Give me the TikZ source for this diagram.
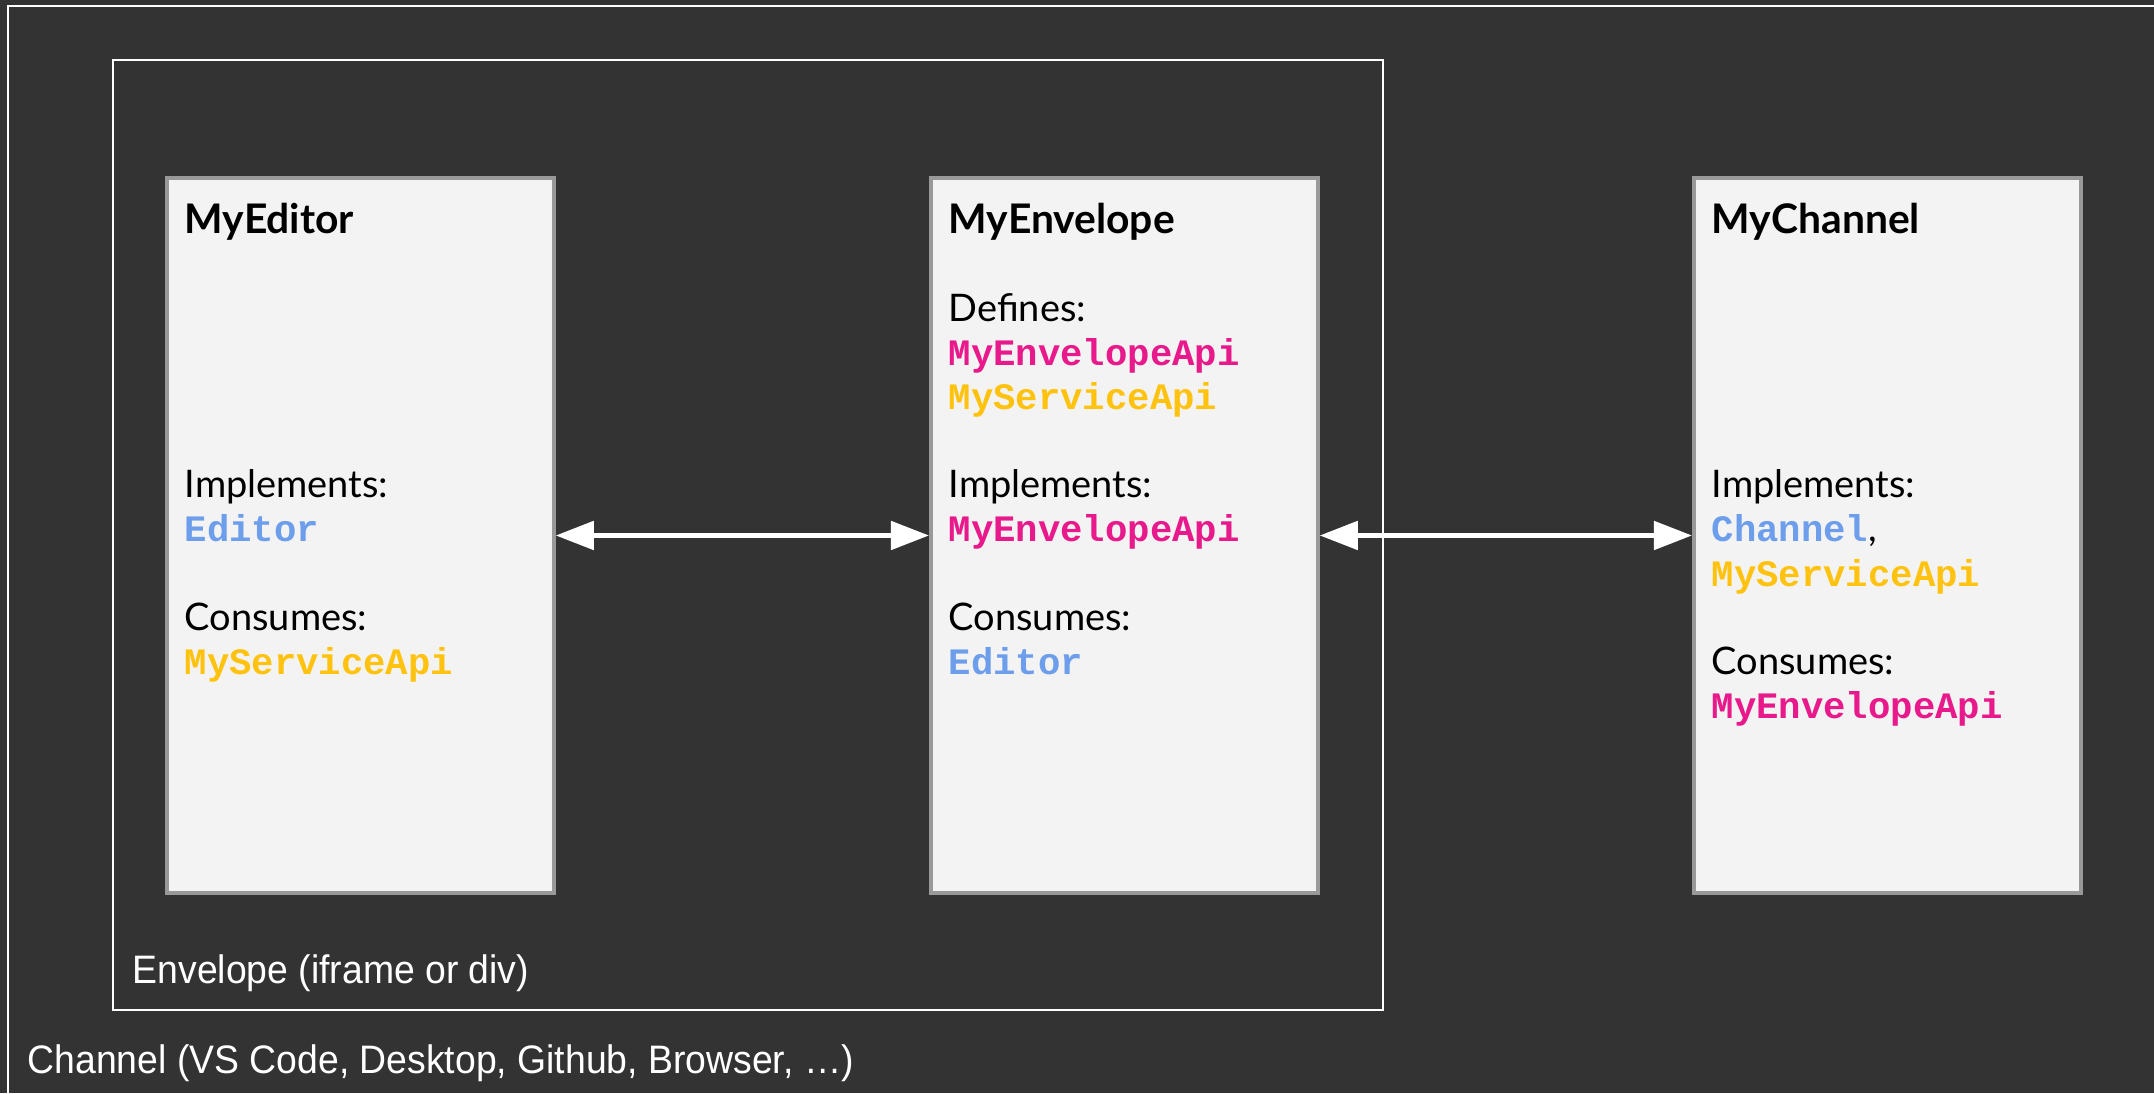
\documentclass[tikz,border=0pt]{standalone}
\usepackage{fontspec}
\setmainfont{Lato}
\setsansfont{Liberation Sans}
\setmonofont{Liberation Mono}
\usetikzlibrary{arrows.meta,positioning}

\definecolor{bgdark}{RGB}{51,51,51}
\definecolor{boxfill}{RGB}{243,243,243}
\definecolor{boxline}{RGB}{153,153,153}
\definecolor{apipink}{RGB}{232,25,139}
\definecolor{apiyellow}{RGB}{255,194,14}
\definecolor{apiblue}{RGB}{109,158,235}

\newcommand{\api}[2]{\textcolor{#1}{\ttfamily\bfseries\fontsize{10.6}{12.55}\selectfont #2}}
\newcommand{\comptitle}[1]{{\bfseries\fontsize{11.6}{12.55}\selectfont #1}}

\tikzset{
  compbox/.style={draw=boxline, fill=boxfill, line width=1pt, anchor=north west,
    minimum width=3.87cm, minimum height=7.15cm, inner sep=0pt},
  boxtext/.style={anchor=north west, align=left, inner sep=0pt,
    font=\fontsize{10.8}{12.55}\selectfont},
  framelabel/.style={anchor=base west, inner sep=0pt, text=white, xscale=0.94,
    font=\sffamily\fontsize{11.3}{13}\selectfont},
  flowarrow/.style={white, line width=1.4pt,
    {Triangle[length=0.38cm,width=0.28cm]}-{Triangle[length=0.38cm,width=0.28cm]}}
}

\begin{document}
\begin{tikzpicture}[x=0.01cm, y=-0.01cm]
    \useasboundingbox (0,0) rectangle (2154,1093);
    \fill[bgdark] (0,0) rectangle (2154,1093);

    % Channel and Envelope frames
    % (the channel frame runs off the page at right and bottom)
    \draw[white, line width=0.6pt] (8,6) rectangle (2200,1150);
    \draw[white, line width=0.45pt] (113,60) rectangle (1383,1010);

    % the three components
    \node[compbox] (editor)   at (165,176)  {};
    \node[compbox] (envelope) at (929,176)  {};
    \node[compbox] (channel)  at (1692,176) {};

    % component texts
    \node[boxtext] (editortext) at ([shift={(19,26)}]editor.north west)
         {\comptitle{MyEditor}\\ \mbox{}\\ \mbox{}\\ \mbox{}\\ \mbox{}\\ \mbox{}\\
          Implements:\\ \api{apiblue}{Editor}\\ \mbox{}\\
          Consumes:\\ \api{apiyellow}{MyServiceApi}};
    \node[boxtext] (envelopetext) at ([shift={(19,26)}]envelope.north west)
         {\comptitle{MyEnvelope}\\ \mbox{}\\
          Defines:\\ \api{apipink}{MyEnvelopeApi}\\ \api{apiyellow}{MyServiceApi}\\ \mbox{}\\
          Implements:\\ \api{apipink}{MyEnvelopeApi}\\ \mbox{}\\
          Consumes:\\ \api{apiblue}{Editor}};
    \node[boxtext] (channeltext) at ([shift={(19,26)}]channel.north west)
         {\comptitle{MyChannel}\\ \mbox{}\\ \mbox{}\\ \mbox{}\\ \mbox{}\\ \mbox{}\\
          Implements:\\ \api{apiblue}{Channel}, \\ \api{apiyellow}{MyServiceApi}\\ \mbox{}\\
          Consumes:\\ \api{apipink}{MyEnvelopeApi}};

    % messages between components
    \draw[flowarrow] (editor) -- (envelope);
    \draw[flowarrow] (envelope) -- (channel);

    % frame labels
    \node[framelabel] (envelopelabel) at (132,983)  {Envelope (iframe or div)};
    \node[framelabel] (channellabel)  at (27,1073) {Channel (VS Code, Desktop, Github, Browser, \ldots)};
\end{tikzpicture}
\end{document}
